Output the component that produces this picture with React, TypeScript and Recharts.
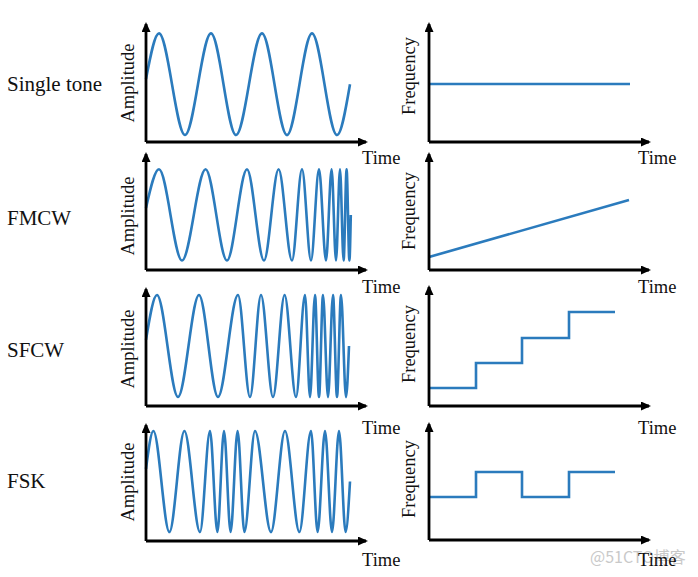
import React from 'react';
import { LineChart, Line, XAxis, YAxis } from 'recharts';

// ---------- data ----------
// Waveforms: time of start, of every crest / trough, and of the end; amplitude at those instants
const singleToneTime = [0, 0.65, 1.95, 3.25, 4.5, 5.8, 7.05, 8.3, 9.55, 10.2];
const singleToneAmp = [0.1, 1, -1, 1, -1, 1, -1, 1, -1, 0];

const fmcwTime = [0, 0.65, 1.8, 2.98, 4.05, 5.05, 5.9, 6.63, 7.3, 7.8, 8.25, 8.65, 9.0, 9.28, 9.5, 9.7, 9.88, 10.03, 10.17, 10.24];
const fmcwAmp = [0.15, 1, -1, 1, -1, 1, -1, 1, -1, 1, -1, 1, -1, 1, -1, 1, -1, 1, -1, 0];

const sfcwTime = [0, 0.55, 1.6, 2.65, 3.6, 4.6, 5.2, 5.75, 6.35, 6.93, 7.5, 7.95, 8.2, 8.45, 8.65, 8.85, 9.1, 9.35, 9.55, 9.75, 10.0, 10.15];
const sfcwAmp = [0.12, 1, -1, 1, -1, 1, -1, 1, -1, 1, -1, 1, -1, 1, -1, 1, -1, 1, -1, 1, -1, 0];

const fskTime = [0, 0.37, 1.17, 1.92, 2.7, 3.2, 3.57, 3.9, 4.23, 4.58, 4.92, 5.45, 6.25, 6.95, 7.67, 8.25, 8.58, 8.95, 9.3, 9.65, 9.98, 10.2];
const fskAmp = [0.25, 1, -1, 1, -1, 1, -1, 1, -1, 1, -1, 1, -1, 1, -1, 1, -1, 1, -1, 1, -1, 0];

// Frequency vs. time
const singleToneFreqTime = [0, 10.05];
const singleToneFreq = [4.92, 4.92];
const fmcwFreqTime = [0, 10.0];
const fmcwFreq = [1.12, 6.03];
const stepTime = [0, 2.35, 4.65, 7.0, 9.3];
const sfcwFreq = [1.51, 3.61, 5.71, 7.9, 7.9];
const fskFreq = [3.71, 5.86, 3.71, 5.86, 5.86];

const rowLabels = ['Single tone', 'FMCW', 'SFCW', 'FSK'];
const ampLabel = 'Amplitude';
const freqLabel = 'Frequency';
const timeLabel = 'Time';
const watermark = '@51CTO博客';

// ---------- helpers ----------
const zip = (t: number[], v: number[]) => t.map((x, i) => ({ t: x, v: v[i] }));

const BLUE = '#2b7bbd';
const PLOT_W = 220;
const M = 12;

type PanelProps = {
  left: number;
  top: number;
  bottom: number;
  data: { t: number; v: number }[];
  yDomain: [number, number];
  curve: 'monotoneX' | 'linear' | 'stepAfter';
};

function Panel({ left, top, bottom, data, yDomain, curve }: PanelProps) {
  const axisStyle = { stroke: '#000', strokeWidth: 2.8 };
  return (
    <div style={{ position: 'absolute', left: left - M, top: top - M }}>
      <LineChart
        width={PLOT_W + 2 * M}
        height={bottom - top + 2 * M}
        data={data}
        margin={{ top: M, right: M, bottom: M - 1, left: M - 1 }}
      >
        <XAxis
          type="number"
          dataKey="t"
          domain={[0, 11]}
          height={1}
          tick={false}
          tickLine={false}
          axisLine={{ ...axisStyle, markerEnd: 'url(#arrowHead)' } as any}
        />
        <YAxis
          type="number"
          domain={yDomain}
          width={1}
          tick={false}
          tickLine={false}
          axisLine={{ ...axisStyle, markerStart: 'url(#arrowHead)' } as any}
        />
        <Line
          type={curve}
          dataKey="v"
          stroke={BLUE}
          strokeWidth={2.6}
          dot={false}
          activeDot={false}
          isAnimationActive={false}
        />
      </LineChart>
    </div>
  );
}

const LEFT_X = 146;
const RIGHT_X = 429;

const rows = [
  {
    top: 24, bottom: 142, rTop: 24, rBottom: 142,
    amp: zip(singleToneTime, singleToneAmp), ampDomain: [-1.138, 1.185] as [number, number],
    freq: zip(singleToneFreqTime, singleToneFreq), freqCurve: 'linear' as const,
    labelY: 91, ampY: 83, freqY: 76, timeY: 164,
  },
  {
    top: 154, bottom: 270, rTop: 154, rBottom: 270,
    amp: zip(fmcwTime, fmcwAmp), ampDomain: [-1.208, 1.336] as [number, number],
    freq: zip(fmcwFreqTime, fmcwFreq), freqCurve: 'linear' as const,
    labelY: 225, ampY: 216, freqY: 211, timeY: 293,
  },
  {
    top: 289, bottom: 406, rTop: 287, rBottom: 406,
    amp: zip(sfcwTime, sfcwAmp), ampDomain: [-1.176, 1.118] as [number, number],
    freq: zip(stepTime, sfcwFreq), freqCurve: 'stepAfter' as const,
    labelY: 357, ampY: 349, freqY: 344, timeY: 434,
  },
  {
    top: 425, bottom: 541, rTop: 424, rBottom: 540,
    amp: zip(fskTime, fskAmp), ampDomain: [-1.178, 1.119] as [number, number],
    freq: zip(stepTime, fskFreq), freqCurve: 'stepAfter' as const,
    labelY: 488, ampY: 482, freqY: 479, timeY: 566,
  },
];

export default function App() {
  return (
    <div
      style={{
        position: 'fixed', left: 0, top: 0, width: 698, height: 577,
        background: '#fff', overflow: 'hidden',
      }}
    >
      <svg width={0} height={0} style={{ position: 'absolute' }}>
        <defs>
          <marker
            id="arrowHead"
            viewBox="0 0 10 9"
            refX={8}
            refY={4.5}
            markerWidth={10}
            markerHeight={9}
            markerUnits="userSpaceOnUse"
            orient="auto-start-reverse"
          >
            <path d="M0,0 L10,4.5 L0,9 Z" fill="#000" />
          </marker>
        </defs>
      </svg>

      {rows.map((r, i) => (
        <React.Fragment key={i}>
          <Panel left={LEFT_X} top={r.top} bottom={r.bottom} data={r.amp} yDomain={r.ampDomain} curve="monotoneX" />
          <Panel left={RIGHT_X} top={r.rTop} bottom={r.rBottom} data={r.freq} yDomain={[0, 10]} curve={r.freqCurve} />
        </React.Fragment>
      ))}

      <svg
        width={698}
        height={577}
        style={{ position: 'absolute', left: 0, top: 0, pointerEvents: 'none' }}
        fontFamily="'Liberation Serif', 'Times New Roman', serif"
        fill="#111"
      >
        <text x={590} y={563} fontSize={16} fill="#c9c9c9" fontFamily="'Noto Sans CJK SC', 'Noto Sans', sans-serif">
          {watermark}
        </text>
        {rows.map((r, i) => (
          <g key={i}>
            <text x={7} y={r.labelY} fontSize={21}>{rowLabels[i]}</text>
            <text x={134} y={r.ampY} fontSize={18.5} textAnchor="middle" transform={`rotate(-90 134 ${r.ampY})`}>
              {ampLabel}
            </text>
            <text x={415} y={r.freqY} fontSize={18.5} textAnchor="middle" transform={`rotate(-90 415 ${r.freqY})`}>
              {freqLabel}
            </text>
            <text x={362} y={r.timeY} fontSize={18.5}>{timeLabel}</text>
            <text x={638} y={r.timeY} fontSize={18.5}>{timeLabel}</text>
          </g>
        ))}
      </svg>
    </div>
  );
}
